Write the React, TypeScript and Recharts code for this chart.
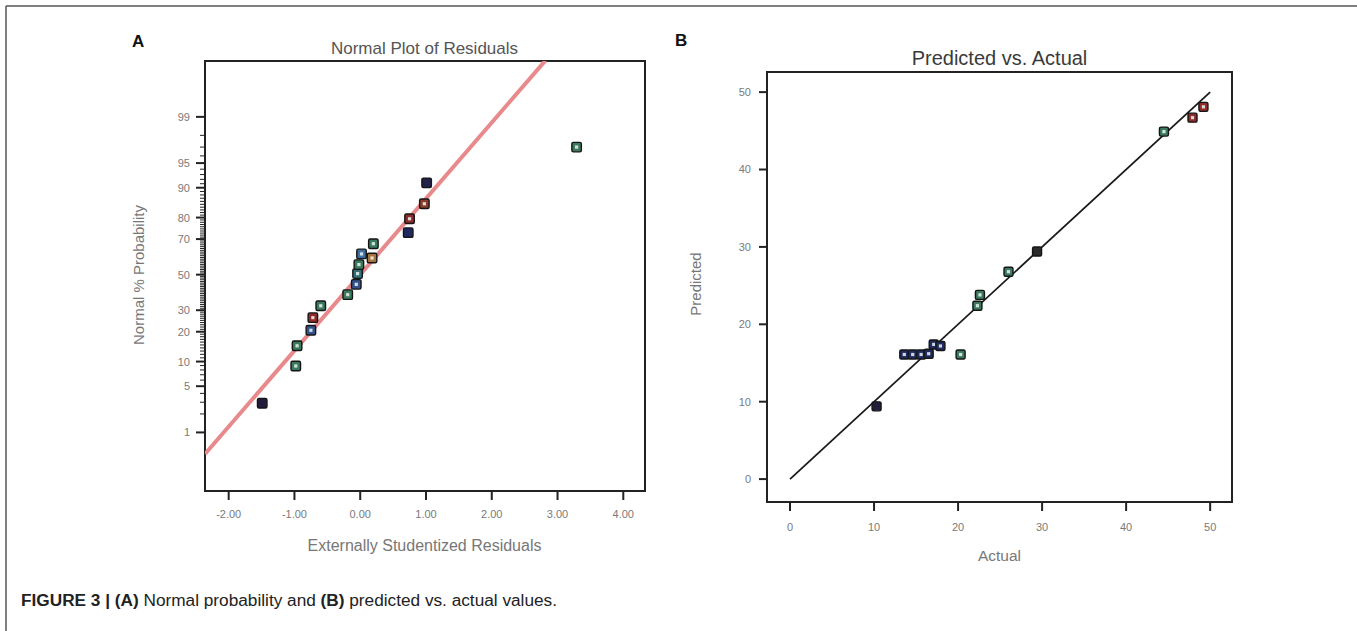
import React from "react";
import { ScatterChart, Scatter, XAxis, YAxis, ReferenceArea, Cell } from "recharts";

// ---- Panel A: normal plot of residuals ----
const residuals = [-1.49, -0.98, -0.96, -0.75, -0.72, -0.6, -0.19, -0.06, -0.04, -0.02, 0.02, 0.18, 0.2, 0.73, 0.75, 0.975, 1.01, 3.29];
const normalProb = [2.9, 8.9, 14.7, 20.6, 26.3, 32.3, 38.4, 44.3, 50.6, 55.9, 62.0, 59.7, 67.6, 73.2, 79.5, 85.2, 91.2, 97.0];
const fitResidual = [-2.36, 2.815];
const fitProb = [0.41, 99.92];
const residualTicks = [-2, -1, 0, 1, 2, 3, 4];
const probMajorTicks = [1, 5, 10, 20, 30, 50, 70, 80, 90, 95, 99];
const probMinorTicks = Array.from({ length: 99 }, (_, i) => i + 1);

// ---- Panel B: predicted vs. actual ----
const actual = [10.3, 13.6, 14.6, 15.6, 16.5, 17.1, 17.9, 20.3, 22.3, 22.6, 26.0, 29.4, 44.5, 47.9, 49.2];
const predicted = [9.4, 16.1, 16.1, 16.1, 16.2, 17.4, 17.2, 16.1, 22.4, 23.8, 26.8, 29.4, 44.9, 46.7, 48.1];
const diagActual = [0, 50];
const diagPredicted = [0, 50];
const actualTicks = [0, 10, 20, 30, 40, 50];
const predictedTicks = [0, 10, 20, 30, 40, 50];

// marker colours (separate from the values)
const GREEN = "#3b7a5e";
const NAVY = "#1f2a60";
const DARK = "#241c3c";
const RED = "#8e2a2a";
const BLUE = "#34528c";
const markA = [
  { fill: DARK, hollow: false },
  { fill: GREEN, hollow: true },
  { fill: GREEN, hollow: true },
  { fill: BLUE, hollow: true },
  { fill: RED, hollow: true },
  { fill: GREEN, hollow: true },
  { fill: GREEN, hollow: true },
  { fill: BLUE, hollow: true },
  { fill: "#2f6f78", hollow: true },
  { fill: GREEN, hollow: true },
  { fill: "#3f6fa0", hollow: true },
  { fill: "#a8743e", hollow: true },
  { fill: GREEN, hollow: true },
  { fill: NAVY, hollow: false },
  { fill: RED, hollow: true },
  { fill: "#8a3a2a", hollow: true },
  { fill: "#22224d", hollow: false },
  { fill: GREEN, hollow: true },
];
const markB = [
  { fill: DARK, hollow: false },
  { fill: NAVY, hollow: true },
  { fill: NAVY, hollow: true },
  { fill: NAVY, hollow: true },
  { fill: NAVY, hollow: true },
  { fill: NAVY, hollow: true },
  { fill: NAVY, hollow: true },
  { fill: GREEN, hollow: true },
  { fill: GREEN, hollow: true },
  { fill: GREEN, hollow: true },
  { fill: GREEN, hollow: true },
  { fill: "#2a2a2a", hollow: false },
  { fill: GREEN, hollow: true },
  { fill: RED, hollow: true },
  { fill: RED, hollow: true },
];

const FONT = "'Liberation Sans', Arial, sans-serif";
const TICK_COLOR = "#7a7a7a";
const AXIS = "#222";

const A_X_DOMAIN = [-2.36, 4.33];
const A_Z_DOMAIN = [-3.19, 3.15];
const B_X_DOMAIN = [-2.74, 52.6];
const B_Y_DOMAIN = [-2.96, 52.6];

// inverse normal CDF (Acklam) -> normal probability scale
function probit(p: number) {
  const a = [-39.69683028665376, 220.9460984245205, -275.9285104469687, 138.357751867269, -30.66479806614716, 2.506628277459239];
  const b = [-54.47609879822406, 161.5858368580409, -155.6989798598866, 66.80131188771972, -13.28068155288572];
  const c = [-0.007784894002430293, -0.3223964580411365, -2.400758277161838, -2.549732539343734, 4.374664141464968, 2.938163982698783];
  const d = [0.007784695709041462, 0.3224671290700398, 2.445134137142996, 3.754408661907416];
  const pl = 0.02425;
  if (p < pl) {
    const q = Math.sqrt(-2 * Math.log(p));
    return (((((c[0] * q + c[1]) * q + c[2]) * q + c[3]) * q + c[4]) * q + c[5]) / ((((d[0] * q + d[1]) * q + d[2]) * q + d[3]) * q + 1);
  }
  if (p <= 1 - pl) {
    const q = p - 0.5;
    const r = q * q;
    return ((((((a[0] * r + a[1]) * r + a[2]) * r + a[3]) * r + a[4]) * r + a[5]) * q) / (((((b[0] * r + b[1]) * r + b[2]) * r + b[3]) * r + b[4]) * r + 1);
  }
  const q = Math.sqrt(-2 * Math.log(1 - p));
  return -(((((c[0] * q + c[1]) * q + c[2]) * q + c[3]) * q + c[4]) * q + c[5]) / ((((d[0] * q + d[1]) * q + d[2]) * q + d[3]) * q + 1);
}

const pointsA = residuals.map((r, i) => ({ x: r, y: probit(normalProb[i] / 100) }));
const fitA = fitResidual.map((r, i) => ({ x: r, y: probit(fitProb[i] / 100) }));
const pointsB = actual.map((v, i) => ({ x: v, y: predicted[i] }));
const diagB = diagActual.map((v, i) => ({ x: v, y: diagPredicted[i] }));
const zTicks = probMinorTicks.map((p) => probit(p / 100));

function SquareMarker(props: any) {
  const { cx, cy, fill, hollow, size } = props;
  if (cx == null || cy == null) return null;
  const s = size;
  return (
    <g>
      <rect x={cx - s / 2} y={cy - s / 2} width={s} height={s} rx={1.5} fill={fill} stroke="#151515" strokeWidth={1.4} />
      {hollow && <rect x={cx - 1.6} y={cy - 1.6} width={3.2} height={3.2} fill="rgba(235,245,240,0.85)" />}
    </g>
  );
}

function ProbTick(props: any) {
  const { x, y, payload } = props;
  const pct = probMinorTicks.find((p) => Math.abs(probit(p / 100) - payload.value) < 1e-9);
  const major = pct != null && probMajorTicks.includes(pct);
  return (
    <g>
      <line x1={x - (major ? 9 : 5)} x2={x} y1={y} y2={y} stroke={AXIS} strokeWidth={major ? 2 : 1} />
      {major && (
        <text x={x - 15} y={y} textAnchor="end" dominantBaseline="central" fontSize={11} fill={TICK_COLOR} fontFamily={FONT}>
          {pct}
        </text>
      )}
    </g>
  );
}

function PanelA() {
  return (
    <ScatterChart width={700} height={631} margin={{ top: 61, right: 55, bottom: 80, left: 145 }}>
      <XAxis
        type="number"
        dataKey="x"
        domain={A_X_DOMAIN}
        ticks={residualTicks}
        interval={0}
        allowDataOverflow
        tickFormatter={(v: number) => v.toFixed(2)}
        tickSize={9}
        tickMargin={10}
        height={60}
        axisLine={{ stroke: AXIS, strokeWidth: 2 }}
        tickLine={{ stroke: AXIS, strokeWidth: 2 }}
        tick={{ fontSize: 11, fill: TICK_COLOR, fontFamily: FONT }}
      />
      <YAxis
        type="number"
        dataKey="y"
        domain={A_Z_DOMAIN}
        ticks={zTicks}
        interval={0}
        allowDataOverflow
        width={60}
        tickSize={0}
        tickMargin={0}
        tickLine={false}
        axisLine={{ stroke: AXIS, strokeWidth: 2 }}
        tick={<ProbTick />}
      />
      <Scatter
        data={fitA}
        line={{ stroke: "#e8898b", strokeWidth: 4 }}
        shape={() => <g />}
        isAnimationActive={false}
      />
      <Scatter data={pointsA} isAnimationActive={false} shape={(p: any) => <SquareMarker {...p} size={9.5} />}>
        {pointsA.map((_, i) => (
          <Cell key={i} fill={markA[i].fill} hollow={markA[i].hollow} />
        ))}
      </Scatter>
      <ReferenceArea
        x1={A_X_DOMAIN[0]}
        x2={A_X_DOMAIN[1]}
        y1={A_Z_DOMAIN[0]}
        y2={A_Z_DOMAIN[1]}
        fill="none"
        stroke={AXIS}
        strokeWidth={2}
        ifOverflow="visible"
      />
    </ScatterChart>
  );
}

function PanelB() {
  return (
    <ScatterChart width={657} height={631} margin={{ top: 72, right: 125, bottom: 89, left: 7 }}>
      <XAxis
        type="number"
        dataKey="x"
        domain={B_X_DOMAIN}
        ticks={actualTicks}
        interval={0}
        allowDataOverflow
        tickSize={9}
        tickMargin={12}
        height={40}
        axisLine={{ stroke: AXIS, strokeWidth: 2 }}
        tickLine={{ stroke: AXIS, strokeWidth: 2 }}
        tick={{ fontSize: 11, fill: TICK_COLOR, fontFamily: FONT }}
      />
      <YAxis
        type="number"
        dataKey="y"
        domain={B_Y_DOMAIN}
        ticks={predictedTicks}
        interval={0}
        allowDataOverflow
        width={60}
        tickSize={8}
        tickMargin={8}
        axisLine={{ stroke: AXIS, strokeWidth: 2 }}
        tickLine={{ stroke: AXIS, strokeWidth: 2 }}
        tick={{ fontSize: 11, fill: TICK_COLOR, fontFamily: FONT }}
      />
      <Scatter
        data={diagB}
        line={{ stroke: "#1a1a1a", strokeWidth: 1.8 }}
        shape={() => <g />}
        isAnimationActive={false}
      />
      <Scatter data={pointsB} isAnimationActive={false} shape={(p: any) => <SquareMarker {...p} size={9} />}>
        {pointsB.map((_, i) => (
          <Cell key={i} fill={markB[i].fill} hollow={markB[i].hollow} />
        ))}
      </Scatter>
      <ReferenceArea
        x1={B_X_DOMAIN[0]}
        x2={B_X_DOMAIN[1]}
        y1={B_Y_DOMAIN[0]}
        y2={B_Y_DOMAIN[1]}
        fill="none"
        stroke={AXIS}
        strokeWidth={2}
        ifOverflow="visible"
      />
    </ScatterChart>
  );
}

export default function App() {
  return (
    <div
      style={{
        position: "absolute",
        left: 0,
        top: 0,
        width: 1357,
        height: 631,
        background: "#fff",
        overflow: "hidden",
        fontFamily: FONT,
      }}
    >
      <div style={{ position: "absolute", left: 0, top: 0 }}>
        <PanelA />
      </div>
      <div style={{ position: "absolute", left: 700, top: 0 }}>
        <PanelB />
      </div>
      <svg width={1357} height={631} style={{ position: "absolute", left: 0, top: 0, pointerEvents: "none" }} fontFamily={FONT}>
        {/* figure frame */}
        <line x1={6} x2={1357} y1={6} y2={6} stroke="#555" strokeWidth={1.5} />
        <line x1={6} x2={6} y1={6} y2={631} stroke="#555" strokeWidth={1.5} />

        {/* panel letters */}
        <text x={132} y={47} fontSize={17} fontWeight="bold" fill="#111">A</text>
        <text x={675} y={46} fontSize={17} fontWeight="bold" fill="#111">B</text>

        {/* titles */}
        <text x={424.5} y={54} textAnchor="middle" fontSize={17} fill="#555">Normal Plot of Residuals</text>
        <text x={999.5} y={65} textAnchor="middle" fontSize={20} fill="#3a3a3a">Predicted vs. Actual</text>

        {/* axis titles */}
        <text x={424.5} y={551} textAnchor="middle" fontSize={16} fill="#777">Externally Studentized Residuals</text>
        <text x={999.5} y={561} textAnchor="middle" fontSize={15.5} fill="#777">Actual</text>
        <text transform="translate(138,275) rotate(-90)" textAnchor="middle" dominantBaseline="central" fontSize={15} fill="#777">
          Normal % Probability
        </text>
        <text transform="translate(695,284) rotate(-90)" textAnchor="middle" dominantBaseline="central" fontSize={15} fill="#777">
          Predicted
        </text>

        {/* caption */}
        <text x={21} y={606} fontSize={16} fill="#222" textLength={536} lengthAdjust="spacingAndGlyphs">
          <tspan fontWeight="bold">FIGURE 3 | (A)</tspan>
          <tspan> Normal probability and </tspan>
          <tspan fontWeight="bold">(B)</tspan>
          <tspan> predicted vs. actual values.</tspan>
        </text>
      </svg>
    </div>
  );
}
